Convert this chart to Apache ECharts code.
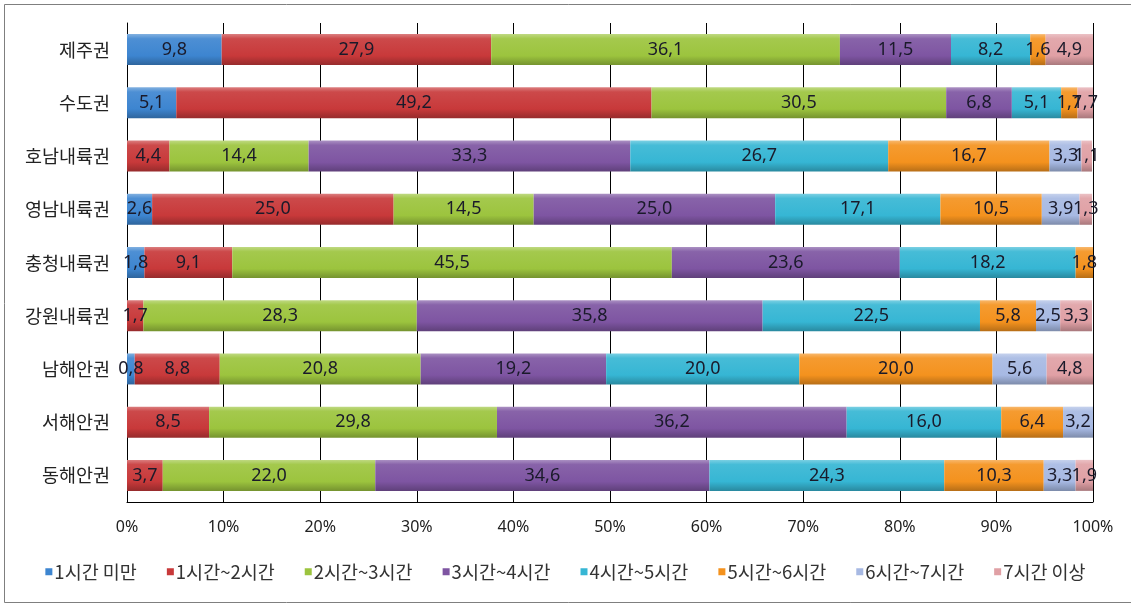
<!DOCTYPE html>
<html>
<head>
<meta charset="utf-8">
<script src="https://cdn.jsdelivr.net/npm/echarts@6/dist/echarts.min.js"></script>
<style>
html,body{margin:0;padding:0;background:#fff;}
#chart{width:1131px;height:605px;}
</style>
</head>
<body>
<div id="chart"></div>
<script>
const categories = ['제주권','수도권','호남내륙권','영남내륙권','충청내륙권','강원내륙권','남해안권','서해안권','동해안권'];
const seriesNames = ['1시간 미만','1시간~2시간','2시간~3시간','3시간~4시간','4시간~5시간','5시간~6시간','6시간~7시간','7시간 이상'];
const s1 = [9.8, 5.1, 0, 2.6, 1.8, 0, 0.8, 0, 0];
const s2 = [27.9, 49.2, 4.4, 25.0, 9.1, 1.7, 8.8, 8.5, 3.7];
const s3 = [36.1, 30.5, 14.4, 14.5, 45.5, 28.3, 20.8, 29.8, 22.0];
const s4 = [11.5, 6.8, 33.3, 25.0, 23.6, 35.8, 19.2, 36.2, 34.6];
const s5 = [8.2, 5.1, 26.7, 17.1, 18.2, 22.5, 20.0, 16.0, 24.3];
const s6 = [1.6, 1.7, 16.7, 10.5, 1.8, 5.8, 20.0, 6.4, 10.3];
const s7 = [0, 0, 3.3, 3.9, 0, 2.5, 5.6, 3.2, 3.3];
const s8 = [4.9, 1.7, 1.1, 1.3, 0, 3.3, 4.8, 0, 1.9];
const xTicks = [0,10,20,30,40,50,60,70,80,90,100];

const colors = ['#3D85D0','#C8393A','#9CC43E','#7E55A2','#36B6D4','#F4921E','#A7B9E3','#E0A0A5'];
const allData = [s1,s2,s3,s4,s5,s6,s7,s8];

function adj(hex, f){
  let r=parseInt(hex.slice(1,3),16), g=parseInt(hex.slice(3,5),16), b=parseInt(hex.slice(5,7),16);
  if(f>0){ r=r+(255-r)*f; g=g+(255-g)*f; b=b+(255-b)*f; }
  else { r=r*(1+f); g=g*(1+f); b=b*(1+f); }
  return 'rgb('+Math.round(r)+','+Math.round(g)+','+Math.round(b)+')';
}
function grad(c){
  return new echarts.graphic.LinearGradient(0,0,0,1,[
    {offset:0, color:adj(c,0.35)},
    {offset:0.15, color:adj(c,0.08)},
    {offset:0.7, color:c},
    {offset:1, color:adj(c,-0.25)}
  ]);
}

const chart = echarts.init(document.getElementById('chart'));
const font = '"Noto Sans CJK KR", "Noto Sans", sans-serif';
chart.setOption({
  animation:false,
  textStyle:{fontFamily:font},
  graphic:[{type:'rect', shape:{x:4.5,y:4.5,width:1130,height:598}, style:{fill:'none', stroke:'#7f7f7f', lineWidth:1}, z:-1}],
  grid:{left:127, right:38, top:23, bottom:103, containLabel:false},
  legend:{
    bottom:19, left:'center', itemWidth:7, itemHeight:7, itemGap:30,
    textStyle:{fontSize:18.5, color:'#333', fontFamily:font, padding:[0,0,0,-3]},
    icon:'rect',
    data:seriesNames.map((n,i)=>({name:n, itemStyle:{color:colors[i]}}))
  },
  xAxis:{
    type:'value', min:0, max:100, interval:10,
    axisLabel:{formatter:'{value}%', fontSize:16, color:'#222', margin:17, fontFamily:'"Noto Sans", sans-serif'},
    axisLine:{show:true, lineStyle:{color:'#000'}},
    axisTick:{show:false},
    splitLine:{show:true, lineStyle:{color:'#000', width:1}}
  },
  yAxis:{
    type:'category', data:categories, inverse:true,
    axisLabel:{fontSize:18.5, color:'#222', margin:17},
    axisLine:{show:true, lineStyle:{color:'#000'}},
    axisTick:{show:false}
  },
  series: allData.map((d,i)=>({
    name:seriesNames[i], type:'bar', stack:'total', barWidth:31,
    data:d.map(v=>v===0?null:v),
    itemStyle:{color:grad(colors[i])},
    label:{show:true, position:'inside', fontSize:18, color:'#1a1a2a', fontFamily:'"Noto Sans", sans-serif',
      formatter:p=>p.value==null?'':p.value.toFixed(1).replace('.',',')}
  }))
});
</script>
</body>
</html>
